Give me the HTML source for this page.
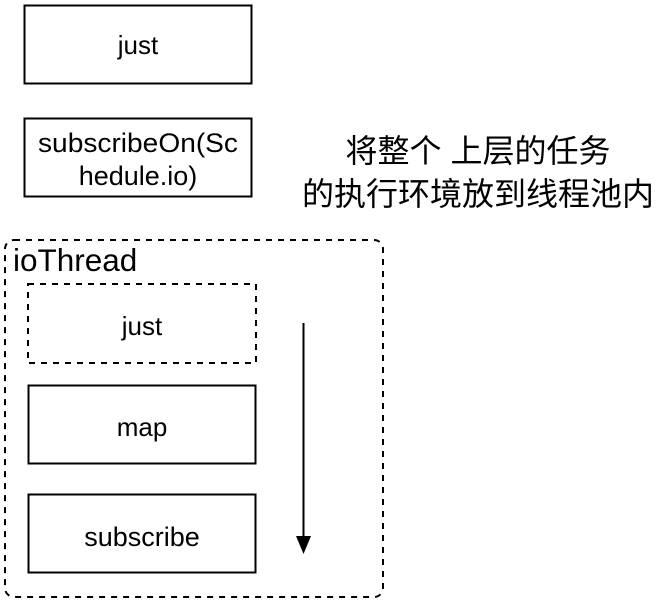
<!DOCTYPE html>
<html><head><meta charset="utf-8"><style>
html,body{margin:0;padding:0;background:#fff;width:664px;height:602px;overflow:hidden}
svg text{font-family:"Liberation Sans","Noto Sans CJK SC",sans-serif;fill:#000}
</style></head><body>
<svg width="664" height="602" viewBox="0 0 664 602" xmlns="http://www.w3.org/2000/svg">
<rect x="24.5" y="5.5" width="227" height="78" fill="#fff" stroke="#000" stroke-width="2"/>
<text x="138" y="54" font-size="26" text-anchor="middle">just</text>
<rect x="24.5" y="118.5" width="227" height="78" fill="#fff" stroke="#000" stroke-width="2"/>
<text x="138" y="152" font-size="27" text-anchor="middle" textLength="200" lengthAdjust="spacingAndGlyphs">subscribeOn(Sc</text>
<text x="138" y="185" font-size="27" text-anchor="middle">hedule.io)</text>
<text x="478" y="162" font-size="32" text-anchor="middle">将整个 上层的任务</text>
<text x="478" y="205" font-size="32" text-anchor="middle">的执行环境放到线程池内</text>
<rect x="5" y="240" width="378" height="357" rx="9" fill="none" stroke="#000" stroke-width="2" stroke-dasharray="6,6"/>
<text x="13" y="271" font-size="31.5">ioThread</text>
<rect x="28" y="284" width="228" height="79" fill="none" stroke="#000" stroke-width="2" stroke-dasharray="6,6"/>
<text x="142" y="335" font-size="26" text-anchor="middle">just</text>
<rect x="28.5" y="385.5" width="227" height="78" fill="#fff" stroke="#000" stroke-width="2"/>
<text x="142" y="436" font-size="26" text-anchor="middle">map</text>
<rect x="28.5" y="494.5" width="227" height="78" fill="#fff" stroke="#000" stroke-width="2"/>
<text x="142" y="546" font-size="27" text-anchor="middle">subscribe</text>
<line x1="303.5" y1="323" x2="303.5" y2="538" stroke="#000" stroke-width="2"/>
<polygon points="296,536 311,536 303.5,554" fill="#000"/>
</svg>
</body></html>
